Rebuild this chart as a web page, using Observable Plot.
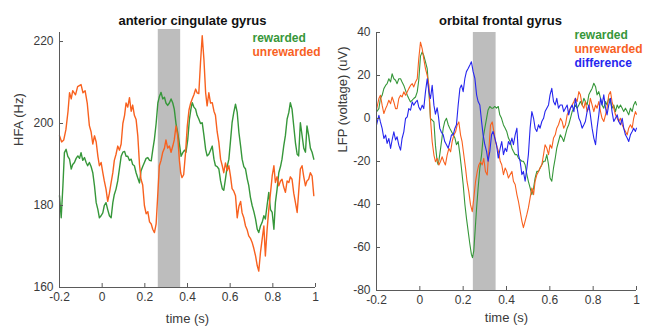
<!DOCTYPE html>
<html>
<head>
<meta charset="utf-8">
<script src="https://cdn.jsdelivr.net/npm/d3@7"></script>
<script src="https://cdn.jsdelivr.net/npm/@observablehq/plot@0.6"></script>
<style>
  html, body { margin: 0; padding: 0; background: #fff; }
  #wrap { position: relative; width: 647px; height: 327px; overflow: hidden; }
  #left, #right { position: absolute; top: 0; }
  #left { left: 0; }
  #right { left: 320px; }
</style>
</head>
<body>
<div id="wrap"><div id="left"></div><div id="right"></div></div>
<script>
// ---------- shared axis data ----------
const timeTicks = [-0.2, 0, 0.2, 0.4, 0.6, 0.8, 1];
const timeTickLabels = ["-0.2", "0", "0.2", "0.4", "0.6", "0.8", "1"];
const timeDomain = [-0.2, 1];

// ---------- left panel: anterior cingulate gyrus (HFA, Hz) ----------
const accTitle = "anterior cingulate gyrus";
const accYLabel = "HFA (Hz)";
const accYTicks = [160, 180, 200, 220];
const accYDomain = [160, 222.2];
const accBand = [0.263, 0.368];
const accRewarded = [[-0.200,182.4],[-0.192,177],[-0.184,184.8],[-0.177,192.9],[-0.169,193.7],[-0.161,192],[-0.153,191.3],[-0.145,188.9],[-0.138,190],[-0.130,190.5],[-0.122,191.5],[-0.114,192.1],[-0.106,191.5],[-0.099,192.9],[-0.091,191],[-0.083,191.7],[-0.075,190.5],[-0.068,189.7],[-0.060,190.5],[-0.052,189.5],[-0.044,188],[-0.036,184.8],[-0.028,180.7],[-0.020,179],[-0.013,177],[-0.005,177.5],[0.003,178.2],[0.010,180],[0.018,180.7],[0.026,179],[0.034,177.5],[0.042,177],[0.050,180.7],[0.057,182.7],[0.065,184],[0.073,186],[0.081,189],[0.089,192],[0.097,193],[0.105,193.2],[0.112,192],[0.120,192],[0.128,191],[0.136,191.3],[0.143,190],[0.151,189.7],[0.159,188],[0.167,186.7],[0.175,185.5],[0.182,188.4],[0.190,189.5],[0.198,190.5],[0.206,191.5],[0.214,191.7],[0.222,191],[0.230,190.9],[0.237,193.5],[0.245,196.2],[0.253,200],[0.261,205],[0.268,206.5],[0.276,207.6],[0.284,206],[0.292,206.4],[0.299,205],[0.307,204.4],[0.315,205],[0.323,206],[0.331,205],[0.338,203.5],[0.346,200],[0.354,197.8],[0.362,195],[0.370,192],[0.378,192.9],[0.386,193.5],[0.393,193],[0.401,196],[0.409,201],[0.416,203.5],[0.422,205.1],[0.430,204],[0.438,203.5],[0.445,202],[0.453,201.1],[0.461,200],[0.469,200.2],[0.477,197.1],[0.485,193.7],[0.492,192.1],[0.500,192.5],[0.508,193.5],[0.516,194.5],[0.524,191.3],[0.531,189.7],[0.539,189.5],[0.547,188.9],[0.555,186],[0.563,184.1],[0.570,183.7],[0.578,186.5],[0.586,189.5],[0.594,191.3],[0.602,196],[0.609,200.2],[0.617,202.7],[0.625,204.7],[0.633,202.7],[0.641,197.8],[0.649,194.5],[0.656,191.3],[0.664,189.5],[0.672,188.9],[0.680,186.5],[0.687,184.9],[0.695,182],[0.703,180],[0.711,178.5],[0.719,176.7],[0.727,174.2],[0.734,173.4],[0.742,175],[0.750,175.9],[0.758,177.5],[0.765,176.7],[0.773,180],[0.781,183.2],[0.789,179],[0.797,178.3],[0.805,174.2],[0.812,180.7],[0.820,184],[0.828,188],[0.836,189.5],[0.843,191.3],[0.851,194.5],[0.859,197.1],[0.867,201.1],[0.875,202.7],[0.882,205.1],[0.890,203.5],[0.898,199.4],[0.906,195.3],[0.914,192.5],[0.921,192.1],[0.929,200.2],[0.937,197.1],[0.945,194],[0.953,193],[0.960,199.4],[0.968,197.1],[0.976,194],[0.984,193],[0.992,191.3]];
const accUnrewarded = [[-0.200,197],[-0.190,195.5],[-0.180,196],[-0.170,198.5],[-0.160,203],[-0.153,207.5],[-0.145,206],[-0.138,208],[-0.125,207],[-0.115,209],[-0.099,209.5],[-0.090,207.5],[-0.080,208],[-0.070,205],[-0.060,199.5],[-0.052,198],[-0.044,195],[-0.036,197],[-0.028,195.5],[-0.020,192],[-0.013,189.7],[-0.005,190.5],[0.003,188],[0.010,186],[0.018,184],[0.026,181],[0.034,183],[0.042,185.6],[0.050,188],[0.057,191],[0.065,192.5],[0.073,194.5],[0.081,193.5],[0.089,195],[0.097,200],[0.105,202],[0.112,205],[0.120,204],[0.128,206.3],[0.136,203],[0.143,204.5],[0.151,202],[0.159,201],[0.167,197],[0.175,190],[0.182,186.4],[0.190,185],[0.198,180],[0.206,178],[0.214,178.5],[0.222,176],[0.230,175.5],[0.237,174.2],[0.245,173.4],[0.253,175.5],[0.261,183],[0.268,189.7],[0.276,191],[0.284,193],[0.292,194],[0.299,196],[0.307,194],[0.315,194.5],[0.323,193],[0.331,194.5],[0.338,196],[0.346,199.4],[0.354,197],[0.362,191],[0.368,188],[0.374,186.8],[0.382,187.5],[0.391,193],[0.399,199.4],[0.407,203.3],[0.415,205],[0.422,206],[0.430,207],[0.438,208.4],[0.445,207.5],[0.453,207.3],[0.461,214.9],[0.469,221.4],[0.477,215.6],[0.485,207.5],[0.492,204.3],[0.500,207.5],[0.508,205],[0.516,205.1],[0.524,203],[0.531,202],[0.539,198],[0.547,195.4],[0.555,191.3],[0.563,189.7],[0.570,188],[0.578,190.4],[0.586,188.5],[0.594,189.7],[0.602,187],[0.609,184.1],[0.617,183.5],[0.625,182.4],[0.633,177],[0.641,179.8],[0.649,181],[0.656,178.2],[0.664,177],[0.672,175],[0.680,174],[0.687,172.6],[0.695,172],[0.703,171],[0.711,169.5],[0.719,167.7],[0.727,165.3],[0.734,164],[0.742,168.5],[0.750,171.8],[0.758,175],[0.765,167.7],[0.773,174],[0.781,179],[0.789,183],[0.797,187.2],[0.805,189.7],[0.812,185.6],[0.820,187],[0.828,184.8],[0.836,186],[0.843,186.4],[0.851,184.5],[0.859,183.2],[0.867,186],[0.875,185.6],[0.882,187],[0.890,186.4],[0.898,183],[0.906,180.7],[0.914,178.3],[0.921,183.2],[0.929,188.9],[0.937,189.7],[0.945,187],[0.953,184.8],[0.960,186],[0.968,186.4],[0.976,188],[0.984,187.2],[0.992,182.4]];

// ---------- right panel: orbital frontal gyrus (LFP, uV) ----------
const ofgTitle = "orbital frontal gyrus";
const ofgYLabel = "LFP (voltage) (uV)";
const ofgYTicks = [-80, -60, -40, -20, 0, 20, 40];
const ofgYDomain = [-80, 40];
const ofgBand = [0.247, 0.352];
const ofgRewarded = [[-0.200,3],[-0.189,4.6],[-0.182,9.3],[-0.174,10.8],[-0.166,13.9],[-0.158,15.4],[-0.151,16.2],[-0.143,18.5],[-0.135,17.0],[-0.128,20.8],[-0.120,18.5],[-0.112,17.8],[-0.105,16.2],[-0.097,18.5],[-0.089,18.5],[-0.082,17.0],[-0.074,15.4],[-0.066,13.1],[-0.058,10.8],[-0.051,9.3],[-0.043,7.7],[-0.035,8.5],[-0.028,9.3],[-0.020,10.0],[-0.012,12.4],[-0.005,17.8],[0.003,29],[0.011,31],[0.018,29.3],[0.026,26.3],[0.034,23.2],[0.042,12.4],[0.049,0.0],[0.057,-0.8],[0.065,-1.6],[0.072,-12.4],[0.080,-20.1],[0.085,-21.5],[0.092,-16.8],[0.100,-10.7],[0.108,-4.5],[0.115,-1.4],[0.123,0.1],[0.131,-2.9],[0.138,-4.5],[0.146,-6.0],[0.154,-7.6],[0.162,-9.1],[0.169,-12.2],[0.177,-10.7],[0.185,-16.8],[0.192,-23.0],[0.200,-30.7],[0.208,-40.0],[0.215,-46.2],[0.223,-52.4],[0.231,-58.5],[0.238,-63.2],[0.243,-64.7],[0.249,-61.6],[0.254,-53.9],[0.262,-41.6],[0.269,-32.3],[0.277,-23.0],[0.285,-16.8],[0.292,-9.1],[0.300,-4.5],[0.308,0.1],[0.315,4.0],[0.323,5.6],[0.331,4.8],[0.338,4.8],[0.346,5.6],[0.354,4.8],[0.362,5.6],[0.369,1.7],[0.377,0.1],[0.386,-3],[0.394,-4.5],[0.401,-6.0],[0.409,-9.1],[0.417,-10.7],[0.425,-13.8],[0.432,-15.3],[0.440,-16.8],[0.448,-16.8],[0.455,-18.4],[0.463,-19.2],[0.471,-19.9],[0.478,-19.9],[0.486,-21.5],[0.494,-26.1],[0.501,-29.2],[0.509,-32.3],[0.517,-35.4],[0.525,-32.3],[0.532,-27.7],[0.540,-24.6],[0.548,-24.6],[0.555,-23.0],[0.563,-21.5],[0.571,-19.9],[0.578,-19.9],[0.586,-16.8],[0.594,-21.5],[0.601,-27.7],[0.609,-29.2],[0.617,-23.0],[0.625,-18.4],[0.632,-13.8],[0.640,-10.7],[0.648,-7.6],[0.657,-9],[0.664,-10.7],[0.672,-7.6],[0.680,-4.5],[0.687,-2.9],[0.695,0.1],[0.703,3.2],[0.711,4.8],[0.718,6.3],[0.726,4.8],[0.734,6.3],[0.741,7.9],[0.749,6.3],[0.757,9.4],[0.764,7.9],[0.772,6.3],[0.780,11.0],[0.787,12.5],[0.795,14.0],[0.803,16.4],[0.811,14.8],[0.818,11.0],[0.826,12.5],[0.834,9.4],[0.841,6.3],[0.849,4.8],[0.857,7.9],[0.864,6.3],[0.872,9.4],[0.880,7.9],[0.887,4.8],[0.895,6.3],[0.903,3.2],[0.911,6.3],[0.918,4.8],[0.926,6.3],[0.934,4.8],[0.941,3.2],[0.949,4.8],[0.957,3.2],[0.964,1.7],[0.972,4.8],[0.980,3.2],[0.987,6.3],[0.995,7.9],[1.000,6.3]];
const ofgUnrewarded = [[-0.200,4],[-0.189,9.3],[-0.182,10.8],[-0.174,6.2],[-0.166,2.3],[-0.158,4.6],[-0.151,6.2],[-0.143,8.5],[-0.135,6.9],[-0.128,10.0],[-0.120,7.7],[-0.112,4.6],[-0.105,4.6],[-0.097,9.3],[-0.089,10.8],[-0.082,10.0],[-0.074,12.4],[-0.066,10.8],[-0.058,12.4],[-0.051,13.9],[-0.043,15.4],[-0.035,16.2],[-0.028,14.7],[-0.020,17.0],[-0.012,18.5],[-0.005,27.8],[0.003,35.5],[0.011,32.4],[0.018,27.8],[0.026,23.2],[0.034,20.1],[0.042,15.4],[0.049,0.0],[0.057,-10.8],[0.065,-17.0],[0.072,-20.1],[0.080,-18.5],[0.088,-21.6],[0.095,-20.1],[0.103,-17.8],[0.111,-20.1],[0.118,-21.6],[0.126,-17.0],[0.134,-13.9],[0.142,-15.5],[0.149,-10.8],[0.157,-7.7],[0.165,-6.2],[0.172,-3.1],[0.180,-1.6],[0.188,-7.7],[0.195,-10.8],[0.203,-17.0],[0.211,-23.2],[0.218,-29.4],[0.226,-34.0],[0.234,-40.2],[0.242,-43.3],[0.249,-37.1],[0.257,-29.4],[0.265,-24.7],[0.272,-21.6],[0.280,-20.1],[0.288,-21.6],[0.295,-18.5],[0.303,-24.7],[0.311,-26.3],[0.318,-15.5],[0.326,-3.1],[0.334,-1.6],[0.342,-6.2],[0.349,-10.8],[0.357,-13.5],[0.363,-15.3],[0.371,-19.9],[0.378,-21.5],[0.386,-26.1],[0.394,-23.0],[0.401,-24.6],[0.409,-27.7],[0.417,-26.1],[0.425,-24.6],[0.432,-29.2],[0.440,-30.7],[0.448,-35.4],[0.455,-38.5],[0.463,-43.1],[0.471,-47.7],[0.478,-50.8],[0.486,-47.7],[0.494,-44.6],[0.501,-41.6],[0.509,-36.9],[0.517,-32.3],[0.525,-35.4],[0.532,-29.2],[0.540,-26.1],[0.548,-24.6],[0.555,-23.0],[0.563,-21.5],[0.571,-16.8],[0.578,-12.2],[0.586,-13.8],[0.594,-16.8],[0.601,-12.2],[0.609,-13.8],[0.617,-9.1],[0.625,-7.6],[0.632,-4.5],[0.640,-2.9],[0.649,0.1],[0.657,-1.4],[0.664,-4.5],[0.672,-2.9],[0.680,1.7],[0.687,3.2],[0.695,4.8],[0.703,6.3],[0.711,7.9],[0.718,9.4],[0.726,7.9],[0.734,12.5],[0.741,11.0],[0.749,6.3],[0.757,4.8],[0.764,7.9],[0.772,3.2],[0.780,4.8],[0.787,9.4],[0.795,6.3],[0.803,3.2],[0.811,6.3],[0.818,4.8],[0.826,7.9],[0.834,3.2],[0.841,0.1],[0.849,-1.4],[0.857,1.7],[0.864,4.8],[0.872,11.0],[0.880,12.5],[0.887,7.9],[0.895,4.8],[0.903,1.7],[0.911,0.1],[0.918,-1.4],[0.926,0.1],[0.934,-2.9],[0.941,-4.5],[0.949,-6.0],[0.957,-7.6],[0.964,-4.5],[0.972,-2.9],[0.980,-4.5],[0.987,0.1],[0.995,3.2],[1.000,2]];
const ofgDifference = [[-0.200,-3.1],[-0.189,1.5],[-0.182,-1.6],[-0.174,-4.6],[-0.166,-9.3],[-0.158,-7.7],[-0.151,-11.6],[-0.143,-9.3],[-0.135,-13.9],[-0.128,-10.0],[-0.120,-6.2],[-0.112,-10.0],[-0.105,-8.5],[-0.097,-12.4],[-0.089,-14.7],[-0.082,-9.3],[-0.074,-6.2],[-0.066,0.0],[-0.058,0.8],[-0.051,4.6],[-0.043,3.9],[-0.035,7.7],[-0.028,6.2],[-0.020,7.5],[-0.012,8.5],[-0.005,5.4],[0.003,3.9],[0.011,6.2],[0.018,4.6],[0.026,12.4],[0.034,18.5],[0.042,12.4],[0.049,9.3],[0.057,15.4],[0.065,6.2],[0.072,2.0],[0.080,5.0],[0.086,0.9],[0.092,-4.5],[0.100,-6.5],[0.108,-7.6],[0.115,-10.7],[0.123,-12.2],[0.131,-13.8],[0.139,-10.7],[0.146,-7.6],[0.154,-7.6],[0.162,-4.5],[0.169,-2.9],[0.177,6.3],[0.185,14.0],[0.192,15.6],[0.200,12.5],[0.208,18.7],[0.215,21.8],[0.223,23.3],[0.231,24.9],[0.238,26.4],[0.246,21.8],[0.254,18.7],[0.262,11.0],[0.269,7.9],[0.277,6.3],[0.285,-1.4],[0.292,-7.6],[0.300,-12.2],[0.308,-15.3],[0.315,-19.9],[0.323,-15.3],[0.331,-7.6],[0.338,-6.0],[0.346,-9.1],[0.354,-12.2],[0.362,-18.4],[0.371,-13.8],[0.378,-10.7],[0.386,-16.8],[0.394,-13.8],[0.401,-15.3],[0.409,-10.7],[0.417,-12.2],[0.425,-9.1],[0.432,-12.2],[0.440,-7.6],[0.448,-4.5],[0.455,-16.8],[0.463,-19.9],[0.471,-26.1],[0.478,-24.6],[0.486,-29.2],[0.494,-23.0],[0.501,-16.8],[0.509,-4.5],[0.517,3.2],[0.525,0.1],[0.532,-4.5],[0.540,-6.0],[0.548,-2.9],[0.555,-4.5],[0.563,-1.4],[0.571,0.1],[0.578,3.2],[0.586,4.8],[0.594,6.3],[0.601,11.0],[0.609,14.0],[0.617,7.9],[0.625,6.3],[0.632,9.4],[0.640,4.8],[0.648,6.3],[0.657,6.3],[0.664,3.2],[0.672,4.8],[0.680,6.3],[0.687,1.7],[0.695,4.8],[0.703,6.3],[0.711,3.2],[0.718,9.4],[0.726,4.8],[0.734,0.1],[0.741,-1.4],[0.749,-4.5],[0.757,-2.9],[0.764,-1.4],[0.772,3.2],[0.780,6.3],[0.787,1.7],[0.795,-4.5],[0.803,-9.1],[0.811,-12.2],[0.818,-4.5],[0.826,1.7],[0.834,9.4],[0.841,6.3],[0.849,11.0],[0.857,4.8],[0.864,1.7],[0.872,6.3],[0.880,9.4],[0.887,3.2],[0.895,-1.4],[0.903,0.1],[0.911,1.7],[0.918,-1.4],[0.926,-2.9],[0.934,0.1],[0.941,-4.5],[0.949,-7.6],[0.957,-9.1],[0.964,-10.7],[0.972,-7.6],[0.980,-6.0],[0.987,-4.5],[0.995,-6.0],[1.000,-4.5]];

// ---------- legends ----------
const accLegend = ["rewarded", "unrewarded"];
const ofgLegend = ["rewarded", "unrewarded", "difference"];

// ---------- style ----------
const FONT = "'Liberation Sans', Arial, Helvetica, sans-serif";
const GREEN = "#36973a";
const ORANGE = "#f8611f";
const BLUE = "#2626ee";
const BAND = "#bdbdbd";
const AXIS = "#5a5a5a";
const TEXT = "#3a3a3a";
const colorOf = {rewarded: GREEN, unrewarded: ORANGE, difference: BLUE};
const tickLabel = new Map(timeTicks.map((t, i) => [t, timeTickLabels[i]]));

function panel(o) {
  const innerH = o.height - o.marginTop - o.marginBottom;
  const innerW = o.width - o.marginLeft - o.marginRight;
  const lines = o.series.map(s => Plot.line(s.data, {x: d => d[0], y: d => d[1], stroke: s.color, strokeWidth: o.lineWidth}));
  const legend = o.legend.map((name, i) => Plot.text([name], {
    frameAnchor: "top-right", textAnchor: "start", lineAnchor: "middle",
    dx: o.legendDx, dy: o.legendDy + i * 14, fill: colorOf[name],
    fontWeight: "bold", fontSize: 12, text: d => d
  }));
  return Plot.plot({
    width: o.width, height: o.height,
    marginLeft: o.marginLeft, marginRight: o.marginRight,
    marginTop: o.marginTop, marginBottom: o.marginBottom,
    x: {domain: timeDomain},
    y: {domain: o.yDomain},
    style: {fontFamily: FONT, fontSize: "12px", color: TEXT, background: "transparent", overflow: "visible"},
    marks: [
      Plot.rect([o.band], {x1: d => d[0], x2: d => d[1], y1: o.yDomain[0], y2: o.yDomain[1], fill: BAND, insetTop: o.bandInsetTop}),
      ...lines,
      Plot.ruleX([timeDomain[0]], {stroke: AXIS, strokeWidth: 1}),
      Plot.ruleY([o.yDomain[0]], {stroke: AXIS, strokeWidth: 1}),
      Plot.tickX(timeTicks, {x: d => d, stroke: AXIS, insetTop: innerH - 4}),
      Plot.tickY(o.yTicks, {y: d => d, stroke: AXIS, insetRight: innerW - 4}),
      Plot.axisX(timeTicks, {tickSize: 0, tickPadding: 5, tickFormat: d => tickLabel.get(d), label: null, fill: TEXT, fontSize: 12}),
      Plot.axisY(o.yTicks, {tickSize: 0, tickPadding: 6, tickFormat: d => String(d), label: null, fill: TEXT, fontSize: 12}),
      Plot.text([o.yLabel], {frameAnchor: "left", rotate: -90, dx: o.yLabelDx, dy: o.yLabelDy, fontSize: 13, fill: TEXT, text: d => d}),
      Plot.text(["time (s)"], {frameAnchor: "bottom", lineAnchor: "middle", dy: o.xLabelDy, fontSize: 13, fill: TEXT, text: d => d}),
      Plot.text([o.title], {frameAnchor: "top", lineAnchor: "middle", dx: o.titleDx, dy: -12, fontWeight: "bold", fontSize: 13, fill: "#111", text: d => d}),
      ...legend
    ]
  });
}

document.getElementById("left").appendChild(panel({
  width: 325, height: 327, marginLeft: 59, marginRight: 10, marginTop: 32, marginBottom: 40,
  yDomain: accYDomain, yTicks: accYTicks, band: accBand, bandInsetTop: -3,
  series: [{data: accRewarded, color: GREEN}, {data: accUnrewarded, color: ORANGE}],
  lineWidth: 1.4, legend: accLegend, legendDx: -63, legendDy: 6,
  yLabel: accYLabel, yLabelDx: -41, yLabelDy: -14, xLabelDy: 31,
  title: accTitle, titleDx: 5
}));

document.getElementById("right").appendChild(panel({
  width: 327, height: 327, marginLeft: 56, marginRight: 11, marginTop: 32, marginBottom: 37,
  yDomain: ofgYDomain, yTicks: ofgYTicks, band: ofgBand, bandInsetTop: 0,
  series: [{data: ofgRewarded, color: GREEN}, {data: ofgUnrewarded, color: ORANGE}, {data: ofgDifference, color: BLUE}],
  lineWidth: 1.1, legend: ofgLegend, legendDx: -62, legendDy: 3,
  yLabel: ofgYLabel, yLabelDx: -34, yLabelDy: -9, xLabelDy: 27,
  title: ofgTitle, titleDx: -6
}));
</script>
</body>
</html>
